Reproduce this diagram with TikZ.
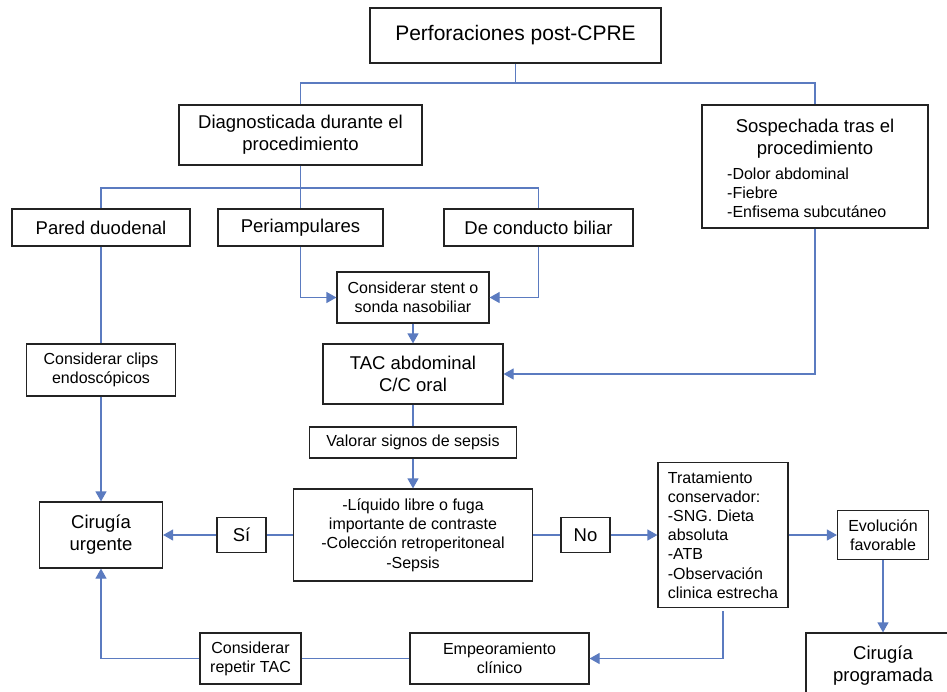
\documentclass[tikz,border=0pt]{standalone}
\usepackage{fontspec}
\setmainfont{Liberation Sans}
\usetikzlibrary{arrows.meta}
\definecolor{conn}{RGB}{91,123,192}
\definecolor{edge}{RGB}{35,35,35}
\newcommand\fsA{\fontsize{21}{25}\selectfont}
\newcommand\fsB{\fontsize{18.5}{22}\selectfont}
\newcommand\fsC{\fontsize{16}{19.2}\selectfont}
\begin{document}
\begin{tikzpicture}[x=1pt,y=-1pt,
  box/.style={draw=edge, line width=1.2pt, inner sep=0pt, align=center, fill=white},
  txt/.style={inner sep=0pt},
  line/.style={draw=conn, line width=1.2pt},
  arr/.style={line, -{Triangle[length=10pt,width=11pt]}}]
\clip (0,0) rectangle (947,691);
\fill[white] (0,0) rectangle (947,691);

% boxes
\node[box, minimum width=291pt, minimum height=55pt, font=\fsA] (title) at (515.5,35.5) {Perforaciones post-CPRE};
\node[box, minimum width=243pt, minimum height=60pt, font=\fsB] (diag) at (300.5,135) {Diagnosticada durante el\\procedimiento};
\node[box, minimum width=226pt, minimum height=123pt] (sosp) at (815,166.5) {};
\node[txt, font=\fsB, align=center] (sospT) at (815,139) {Sospechada tras el\\procedimiento};
\node[txt, font=\fsC, align=left, anchor=west] (sospL) at (727,193) {-Dolor abdominal\\-Fiebre\\-Enfisema subcutáneo};
\node[box, minimum width=178pt, minimum height=37pt, font=\fsB] (pared) at (101,227.5) {Pared duodenal};
\node[box, minimum width=165pt, minimum height=37pt, font=\fsB] (peri) at (300.5,227.5) {Periampulares};
\node[box, minimum width=189pt, minimum height=37pt, font=\fsB] (biliar) at (538.5,227.5) {De conducto biliar};
\node[box, minimum width=152pt, minimum height=51pt, font=\fsC] (stent) at (413,297.5) {Considerar stent o\\sonda nasobiliar};
\node[box, minimum width=149pt, minimum height=52pt, font=\fsC] (clips) at (101,370) {Considerar clips\\endoscópicos};
\node[box, minimum width=180pt, minimum height=60pt, font=\fsB] (tac) at (413,374) {TAC abdominal\\C/C oral};
\node[box, minimum width=207pt, minimum height=31pt, font=\fsC] (valorar) at (413,442.5) {Valorar signos de sepsis};
\node[box, minimum width=239pt, minimum height=92pt, font=\fsC] (liquid) at (413,535) {-Líquido libre o fuga\\importante de contraste\\-Colección retroperitoneal\\-Sepsis};
\node[box, minimum width=123pt, minimum height=66pt, font=\fsB] (urg) at (101,535) {Cirugía\\urgente};
\node[box, minimum width=49pt, minimum height=35pt, font=\fsB] (si) at (241.5,535) {Sí};
\node[box, minimum width=49pt, minimum height=35pt, font=\fsB] (no) at (585.5,535) {No};
\node[box, minimum width=130pt, minimum height=145pt, font=\fsC, align=left] (trat) at (723,535) {Tratamiento\\conservador:\\-SNG. Dieta\\absoluta\\-ATB\\-Observación\\clinica estrecha};
\node[box, minimum width=91pt, minimum height=49pt, font=\fsC] (evol) at (883,535) {Evolución\\favorable};
\node[box, minimum width=154pt, minimum height=66pt, font=\fsB] (prog) at (883,666) {Cirugía\\programada};
\node[box, minimum width=101pt, minimum height=51pt, font=\fsC] (repetir) at (250.5,658.5) {Considerar\\repetir TAC};
\node[box, minimum width=179pt, minimum height=51pt, font=\fsC] (empeor) at (499.5,658.5) {Empeoramiento\\clínico};

% connectors
\coordinate (j1) at (515.5,83);
\coordinate (j2) at (300.5,188);
\draw[line] (title.south) -- (j1);
\draw[line] (diag.north) |- (j1) -| (sosp.north);
\draw[line] (diag.south) -- (j2);
\draw[line] (pared.north) |- (j2) -| (biliar.north);
\draw[line] (j2) -- (peri.north);
\draw[arr] (peri.south) |- (stent.west);
\draw[arr] (biliar.south) |- (stent.east);
\draw[arr] (stent.south) -- (tac.north);
\draw[arr] (sosp.south) |- (tac.east);
\draw[line] (pared.south) -- (clips.north);
\draw[arr] (clips.south) -- (urg.north);
\draw[line] (tac.south) -- (valorar.north);
\draw[arr] (valorar.south) -- (liquid.north);
\draw[line] (liquid.west) -- (si.east);
\draw[arr] (si.west) -- (urg.east);
\draw[line] (liquid.east) -- (no.west);
\draw[arr] (no.east) -- (trat.west);
\draw[arr] (trat.east) -- (evol.west);
\draw[arr] (evol.south) -- (prog.north);
\draw[arr, shorten <=3pt] (trat.south) |- (empeor.east);
\draw[line] (empeor.west) -- (repetir.east);
\draw[arr] (repetir.west) -| (urg.south);
\end{tikzpicture}
\end{document}
